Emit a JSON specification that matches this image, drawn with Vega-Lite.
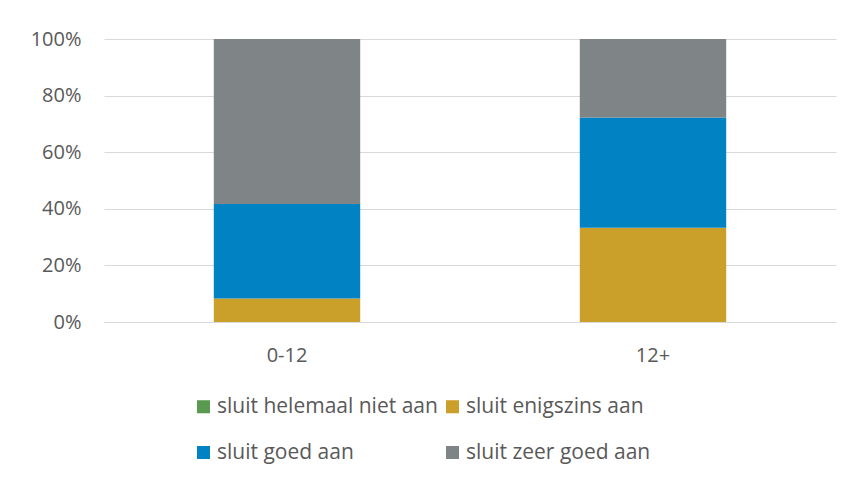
{
  "$schema": "https://vega.github.io/schema/vega-lite/v6.json",
  "autosize": {"type": "none"},
  "width": 732,
  "height": 283,
  "padding": {"left": 104, "top": 39, "right": 16, "bottom": 157},
  "background": "white",
  "data": {
    "values": [
      {"groep": "0-12", "antwoord": "sluit helemaal niet aan", "volgorde": 1, "aandeel": 0.0},
      {"groep": "0-12", "antwoord": "sluit enigszins aan", "volgorde": 2, "aandeel": 0.0833},
      {"groep": "0-12", "antwoord": "sluit goed aan", "volgorde": 3, "aandeel": 0.3333},
      {"groep": "0-12", "antwoord": "sluit zeer goed aan", "volgorde": 4, "aandeel": 0.5834},
      {"groep": "12+", "antwoord": "sluit helemaal niet aan", "volgorde": 1, "aandeel": 0.0},
      {"groep": "12+", "antwoord": "sluit enigszins aan", "volgorde": 2, "aandeel": 0.3333},
      {"groep": "12+", "antwoord": "sluit goed aan", "volgorde": 3, "aandeel": 0.3889},
      {"groep": "12+", "antwoord": "sluit zeer goed aan", "volgorde": 4, "aandeel": 0.2778}
    ]
  },
  "mark": {"type": "bar", "stroke": null},
  "encoding": {
    "x": {
      "field": "groep",
      "type": "nominal",
      "title": null,
      "scale": {"paddingInner": 0.6, "paddingOuter": 0.3},
      "axis": {
        "labelAngle": 0,
        "ticks": false,
        "domainColor": "#d9d9d9",
        "domainWidth": 1,
        "labelPadding": 23,
        "labelFont": "Open Sans",
        "labelFontSize": 20,
        "labelColor": "#595959"
      }
    },
    "y": {
      "field": "aandeel",
      "type": "quantitative",
      "stack": "zero",
      "title": null,
      "scale": {"domain": [0, 1]},
      "axis": {
        "format": ".0%",
        "values": [0, 0.2, 0.4, 0.6, 0.8, 1],
        "domain": false,
        "ticks": false,
        "gridColor": "#d9d9d9",
        "gridWidth": 1,
        "labelPadding": 23,
        "labelFont": "Open Sans",
        "labelFontSize": 20,
        "labelColor": "#595959"
      }
    },
    "color": {
      "field": "antwoord",
      "type": "nominal",
      "scale": {
        "domain": ["sluit helemaal niet aan", "sluit enigszins aan", "sluit goed aan", "sluit zeer goed aan"],
        "range": ["#5a9a50", "#cba02a", "#0082c3", "#7f8487"]
      },
      "legend": {
        "orient": "none",
        "direction": "horizontal",
        "legendX": 89,
        "legendY": 357,
        "columns": 2,
        "title": null,
        "symbolType": "square",
        "symbolSize": 170,
        "symbolStrokeWidth": 0,
        "labelFont": "Open Sans",
        "labelFontSize": 21,
        "labelColor": "#595959",
        "labelOffset": 3,
        "columnPadding": 4,
        "rowPadding": 24,
        "labelLimit": 400
      }
    },
    "order": {"field": "volgorde", "type": "quantitative"}
  },
  "config": {"view": {"stroke": null}}
}
